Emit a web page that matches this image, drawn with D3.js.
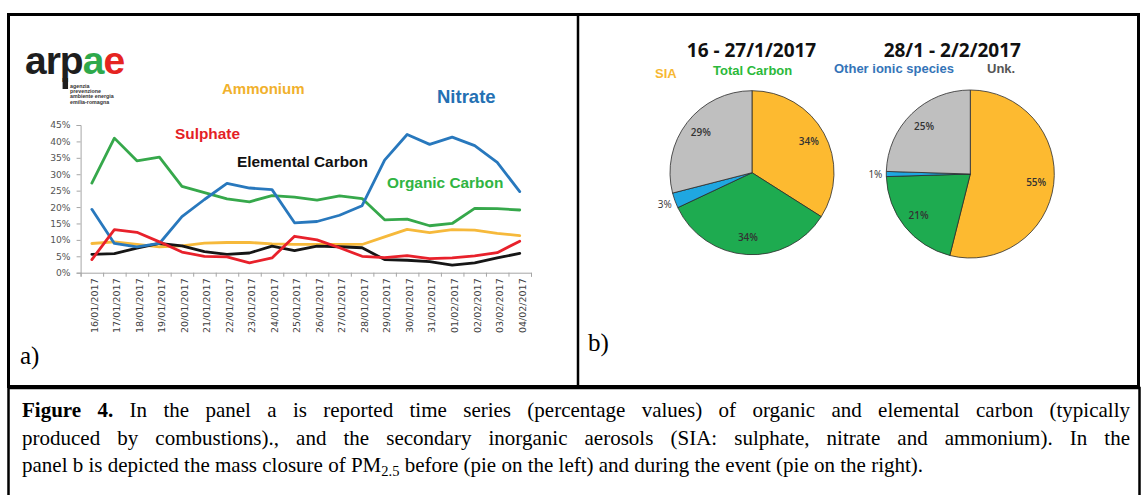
<!DOCTYPE html>
<html>
<head>
<meta charset="utf-8">
<script src="https://cdnjs.cloudflare.com/ajax/libs/d3/7.8.5/d3.min.js"></script>
<style>
body { margin: 0; background: #fff; }
svg { display: block; }
</style>
</head>
<body>
<div id="fig"></div>
<script>
// panel a: daily share of PM2.5 (%)
const dates = ["16/01/2017", "17/01/2017", "18/01/2017", "19/01/2017", "20/01/2017",
    "21/01/2017", "22/01/2017", "23/01/2017", "24/01/2017", "25/01/2017", "26/01/2017",
    "27/01/2017", "28/01/2017", "29/01/2017", "30/01/2017", "31/01/2017", "01/02/2017",
    "02/02/2017", "03/02/2017", "04/02/2017"];
const organicCarbon   = [27.3, 41.0, 34.1, 35.2, 26.3, 24.4, 22.5, 21.6, 23.5, 23.0, 22.1, 23.4, 22.6, 16.1, 16.3, 14.3, 15.0, 19.6, 19.5, 19.1];
const nitrate         = [19.3,  8.9,  7.9,  8.9, 17.1, 22.3, 27.2, 25.8, 25.3, 15.2, 15.6, 17.5, 20.4, 34.3, 42.1, 39.1, 41.3, 38.7, 33.6, 24.7];
const ammonium        = [ 8.9,  9.4,  8.6,  7.9,  8.2,  9.0,  9.2,  9.2,  8.8,  8.6,  8.6,  8.6,  8.6, 10.9, 13.2, 12.2, 13.1, 13.0, 12.0, 11.3];
const sulphate        = [ 4.0, 13.1, 12.3,  9.4,  6.3,  5.0,  4.8,  3.0,  4.5, 11.1, 10.0,  7.6,  5.0,  4.6,  5.2,  4.3,  4.5,  5.1,  6.1,  9.6];
const elementalCarbon = [ 5.6,  5.8,  7.5,  8.9,  8.2,  6.4,  5.6,  6.0,  8.1,  6.7,  8.1,  7.9,  7.6,  4.0,  3.8,  3.4,  2.3,  3.0,  4.5,  5.9];
const yTicks = [0, 5, 10, 15, 20, 25, 30, 35, 40, 45];

// panel b: mass closure (%)
const pieCategories = ["SIA", "Total Carbon", "Other ionic species", "Unk."];
const pieTitles = ["16 - 27/1/2017", "28/1 - 2/2/2017"];
const pieBefore = [34, 34, 3, 29];
const pieDuring = [55, 21, 1, 25];

const captionLines = [
    [{ t: "Figure 4.", bold: true }, { t: " In the panel a is reported time series (percentage values) of organic and elemental carbon (typically" }],
    [{ t: "produced by combustions)., and the secondary inorganic aerosols (SIA: sulphate, nitrate and ammonium). In the" }],
    [{ t: "panel b is depicted the mass closure of PM" }, { t: "2.5", sub: true }, { t: " before (pie on the left) and during the event (pie on the right)." }]
];

const size = {
    width: 1143,
    height: 495,
    plot: { left: 80.6, right: 531, top: 125, bottom: 272.7 },
    pies: [{ cx: 752, cy: 172.7, r: 82 }, { cx: 970.3, cy: 174, r: 84 }],
    caption: { left: 22, right: 1130, top: 417, lineHeight: 27.5, fontSize: 21 }
};

const seriesStyle = [
    { name: "Ammonium", values: ammonium, color: "#f6b93b", label: { x: 222, y: 93.5, size: 15, color: "#f1b12c" } },
    { name: "Elemental Carbon", values: elementalCarbon, color: "#161616", label: { x: 237, y: 167, size: 15.4, color: "#111" } },
    { name: "Organic Carbon", values: organicCarbon, color: "#36a84b", label: { x: 387, y: 188, size: 15.4, color: "#30b442" } },
    { name: "Nitrate", values: nitrate, color: "#2878bd", label: { x: 437, y: 103, size: 18.5, color: "#2470b3" } },
    { name: "Sulphate", values: sulphate, color: "#e8212b", label: { x: 175, y: 138.5, size: 15.4, color: "#e41e26" } }
];

const pieColors = ["#fdba30", "#1eab50", "#1fa7e1", "#bfbfbf"];
const legendStyle = [
    { x: 655, y: 78, color: "#f7b833" },
    { x: 713, y: 75, color: "#2bb93a" },
    { x: 834, y: 73, color: "#3474b8" },
    { x: 987, y: 73, color: "#555" }
];

const svg = d3.select("#fig").append("svg")
    .attr("width", size.width)
    .attr("height", size.height);

svg.append("rect").attr("width", size.width).attr("height", size.height).attr("fill", "#fff");

// ---------- panel a ----------
const panelA = svg.append("g");

const x = d3.scaleBand().domain(dates).range([size.plot.left, size.plot.right]);
const y = d3.scaleLinear().domain([0, 45]).range([size.plot.bottom, size.plot.top]);
const xc = d => x(d) + x.bandwidth() / 2;

const yAxis = panelA.append("g")
    .attr("transform", `translate(${size.plot.left},0)`)
    .call(d3.axisLeft(y).tickValues(yTicks).tickSize(4).tickPadding(6).tickFormat(d => d + "%"));
yAxis.selectAll("path, line").attr("stroke", "#a6a6a6");
yAxis.selectAll("text").attr("font-family", "DejaVu Sans").attr("font-size", 9.2).attr("fill", "#555");

// category boundary ticks like a spreadsheet chart
const edge = d3.scaleLinear().domain([0, dates.length]).range([size.plot.left, size.plot.right]);
const xTicks = panelA.append("g")
    .attr("transform", `translate(0,${size.plot.bottom})`)
    .call(d3.axisBottom(edge).ticks(dates.length).tickSize(4).tickFormat(""));
xTicks.selectAll("path, line").attr("stroke", "#a6a6a6");

const xAxis = panelA.append("g")
    .attr("transform", `translate(0,${size.plot.bottom})`)
    .call(d3.axisBottom(x).tickSize(0));
xAxis.select(".domain").remove();
xAxis.selectAll("text")
    .attr("transform", "rotate(-90)")
    .attr("text-anchor", "end")
    .attr("x", -5.6)
    .attr("y", 2.5)
    .attr("dy", "0.35em")
    .attr("font-family", "DejaVu Sans")
    .attr("font-size", 9.5)
    .attr("fill", "#404040");

const line = d3.line()
    .x((d, i) => xc(dates[i]))
    .y(d => y(d));

panelA.selectAll(".series")
    .data(seriesStyle)
    .enter().append("path")
    .attr("d", s => line(s.values))
    .attr("fill", "none")
    .attr("stroke", s => s.color)
    .attr("stroke-width", 2.8)
    .attr("stroke-linejoin", "round")
    .attr("stroke-linecap", "round");

panelA.selectAll(".series-label")
    .data(seriesStyle)
    .enter().append("text")
    .attr("x", s => s.label.x)
    .attr("y", s => s.label.y)
    .attr("font-family", "Liberation Sans, Arial, sans-serif")
    .attr("font-weight", "bold")
    .attr("font-size", s => s.label.size)
    .attr("fill", s => s.label.color)
    .text(s => s.name);

// logo
const logo = panelA.append("g");
const logoText = logo.append("text")
    .attr("x", 25)
    .attr("y", 74)
    .attr("font-family", "Liberation Sans, Arial, sans-serif")
    .attr("font-weight", "bold")
    .attr("font-size", 39)
    .attr("letter-spacing", -1)
    .attr("fill", "#1e1e1e");
logoText.append("tspan").text("arp");
logoText.append("tspan").attr("fill", "#2ea94b").text("a");
logoText.append("tspan").attr("fill", "#e52421").text("e");
// long stem of the "p"
const pBox = logoText.node().getExtentOfChar(2);
logo.append("rect")
    .attr("x", pBox.x + 39 * 0.07)
    .attr("y", 78)
    .attr("width", 39 * 0.14)
    .attr("height", 11)
    .attr("fill", "#1e1e1e");
["agenzia", "prevenzione", "ambiente energia", "emilia-romagna"].forEach((t, i) => {
    logo.append("text")
        .attr("x", pBox.x + 39 * 0.07 + 39 * 0.14 + 2)
        .attr("y", 88 + i * 5.2)
        .attr("font-family", "Liberation Sans, Arial, sans-serif")
        .attr("font-weight", "bold")
        .attr("font-size", 5.3)
        .attr("fill", "#333")
        .text(t);
});

// ---------- panel b ----------
const panelB = svg.append("g");
const pie = d3.pie().sort(null).value(d => d);

[pieBefore, pieDuring].forEach((values, k) => {
    const p = size.pies[k];
    const g = panelB.append("g").attr("transform", `translate(${p.cx},${p.cy})`);
    const arc = d3.arc().innerRadius(0).outerRadius(p.r);
    const inside = d3.arc().innerRadius(p.r * 0.79).outerRadius(p.r * 0.79);
    const outside = d3.arc().innerRadius(p.r * 1.13).outerRadius(p.r * 1.13);
    const arcs = pie(values);

    g.selectAll("path")
        .data(arcs)
        .enter().append("path")
        .attr("d", arc)
        .attr("fill", (d, i) => pieColors[i])
        .attr("stroke", "#2b2b2b")
        .attr("stroke-width", 0.8);

    g.selectAll("text")
        .data(arcs)
        .enter().append("text")
        .attr("transform", d => `translate(${(d.data < 5 ? outside : inside).centroid(d)})`)
        .attr("text-anchor", "middle")
        .attr("dy", "0.35em")
        .attr("font-family", "Open Sans, sans-serif")
        .attr("font-size", 10)
        .attr("font-weight", d => d.data < 5 ? 400 : 600)
        .attr("fill", "#333")
        .text(d => d.data + "%");

    panelB.append("text")
        .attr("x", p.cx - (k === 0 ? 0.5 : 18))
        .attr("y", 56.7)
        .attr("text-anchor", "middle")
        .attr("font-family", "Open Sans, sans-serif")
        .attr("font-weight", "bold")
        .attr("font-size", 19)
        .attr("fill", "#111")
        .text(pieTitles[k]);
});

panelB.selectAll(".legend")
    .data(pieCategories)
    .enter().append("text")
    .attr("x", (d, i) => legendStyle[i].x)
    .attr("y", (d, i) => legendStyle[i].y)
    .attr("font-family", "Liberation Sans, Arial, sans-serif")
    .attr("font-weight", "bold")
    .attr("font-size", 13)
    .attr("fill", (d, i) => legendStyle[i].color)
    .text(d => d);

// panel letters
svg.append("text").attr("x", 20).attr("y", 364).attr("font-family", "Liberation Serif, serif")
    .attr("font-size", 25).attr("fill", "#000").text("a)");
svg.append("text").attr("x", 588).attr("y", 351).attr("font-family", "Liberation Serif, serif")
    .attr("font-size", 25).attr("fill", "#000").text("b)");

// frames
svg.append("rect").attr("x", 8.5).attr("y", 14.5).attr("width", 1130).attr("height", 372)
    .attr("fill", "none").attr("stroke", "#000").attr("stroke-width", 3);
svg.append("line").attr("x1", 578).attr("x2", 578).attr("y1", 14).attr("y2", 387)
    .attr("stroke", "#000").attr("stroke-width", 2.5);
svg.append("rect").attr("x", 8.5).attr("y", 388).attr("width", 1131).attr("height", 120)
    .attr("fill", "none").attr("stroke", "#000").attr("stroke-width", 2.5);

// caption
const cap = svg.append("g")
    .attr("font-family", "Liberation Serif, Times New Roman, serif")
    .attr("font-size", size.caption.fontSize)
    .attr("fill", "#000");

captionLines.forEach((parts, i) => {
    const t = cap.append("text")
        .attr("x", size.caption.left)
        .attr("y", size.caption.top + i * size.caption.lineHeight);
    parts.forEach(p => {
        const ts = t.append("tspan").text(p.t);
        if (p.bold) ts.attr("font-weight", "bold");
        if (p.sub) ts.attr("font-size", 14.5).attr("dy", 4);
        else if (p.t[0] === " " && parts.some(q => q.sub)) ts.attr("dy", -4);
    });
    if (i < captionLines.length - 1) {
        const full = parts.map(p => p.t).join("");
        const gaps = (full.match(/ /g) || []).length;
        const w = t.node().getComputedTextLength();
        t.style("word-spacing", ((size.caption.right - size.caption.left - w) / gaps) + "px");
    }
});
</script>
</body>
</html>
